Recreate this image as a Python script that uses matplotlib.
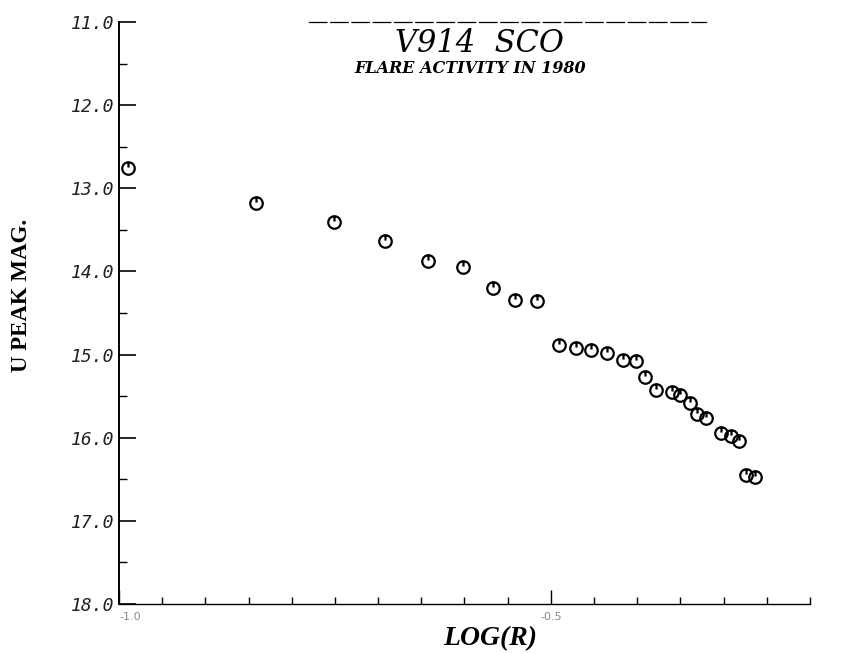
import numpy as np
import matplotlib.pyplot as plt
from matplotlib.path import Path

# Flare data (LOG(R) vs U peak magnitude)
log_r = [-0.990, -0.841, -0.751, -0.692, -0.642, -0.602, -0.567, -0.542, -0.516,
         -0.491, -0.471, -0.453, -0.435, -0.417, -0.401, -0.391, -0.378, -0.360,
         -0.350, -0.339, -0.331, -0.320, -0.303, -0.291, -0.282, -0.274, -0.264]
u_peak = [12.76, 13.18, 13.40, 13.63, 13.87, 13.95, 14.20, 14.34, 14.35,
          14.88, 14.92, 14.94, 14.98, 15.06, 15.08, 15.27, 15.43, 15.45,
          15.49, 15.58, 15.72, 15.76, 15.94, 15.98, 16.04, 16.45, 16.47]

y_ticks = [11, 12, 13, 14, 15, 16, 17, 18]
y_labels = ['11.0', '12.0', '13.0', '14.0', '15.0', '16.0', '17.0', '18.0']
x_ticks = [-1.0, -0.5]
x_labels = ['-1.0', '-0.5']

# circle with a little stroke from the top, like the old plotter symbol
circ = Path.unit_circle()
stroke = Path([(0, 1), (0, 0.15)], [Path.MOVETO, Path.LINETO])
symbol = Path.make_compound_path(circ, stroke)

fig = plt.figure(figsize=(8.46, 6.54), dpi=100)
ax = fig.add_axes([0.1407, 0.0765, 0.8167, 0.8899])

ax.plot(log_r, u_peak, linestyle='none', marker=symbol, markersize=9,
        markerfacecolor='none', markeredgecolor='black', markeredgewidth=1.6)

ax.set_xlim(-1.0, -0.2)
ax.set_ylim(18, 11)

ax.spines['right'].set_visible(False)
ax.spines['top'].set_bounds(-0.78, -0.32)
ax.spines['top'].set_linestyle((0, (14, 3)))
ax.spines['top'].set_linewidth(0.9)
ax.spines['left'].set_linewidth(1.4)
ax.spines['bottom'].set_linewidth(1.0)

ax.set_yticks(y_ticks)
ax.set_yticklabels(y_labels, family='DejaVu Sans Mono', style='italic',
                   fontsize=13, color='#222222')
ax.set_yticks(np.arange(11.5, 18, 1.0), minor=True)
ax.set_xticks(x_ticks)
ax.set_xticklabels(x_labels, fontsize=8, color='#888888')
ax.get_xticklabels()[0].set_ha('left')
ax.set_xticks(np.arange(-0.95, -0.19, 0.05), minor=True)

ax.tick_params(axis='y', which='major', direction='in', length=12, width=1.2, pad=3)
ax.tick_params(axis='y', which='minor', direction='in', length=6, width=1.0)
ax.tick_params(axis='x', which='major', direction='in', length=10, width=1.0, pad=6)
ax.tick_params(axis='x', which='minor', direction='in', length=5, width=1.0)
ax.tick_params(top=False, right=False)

fig.text(0.567, 0.921, 'V914  SCO', family='DejaVu Serif', style='italic',
         fontsize=22, ha='center', va='baseline')
fig.text(0.556, 0.889, 'FLARE ACTIVITY IN 1980', family='DejaVu Serif',
         style='italic', weight='bold', fontsize=11.5, ha='center', va='baseline')

fig.text(0.580, 0.014, 'LOG(R)', family='Liberation Serif', style='italic',
         weight='bold', fontsize=20, ha='center', va='baseline')
fig.text(0.026, 0.548, 'U PEAK MAG.', family='Liberation Serif', weight='bold',
         fontsize=16.5, rotation=90, ha='center', va='center')

fig.savefig('out.png', dpi=100)
